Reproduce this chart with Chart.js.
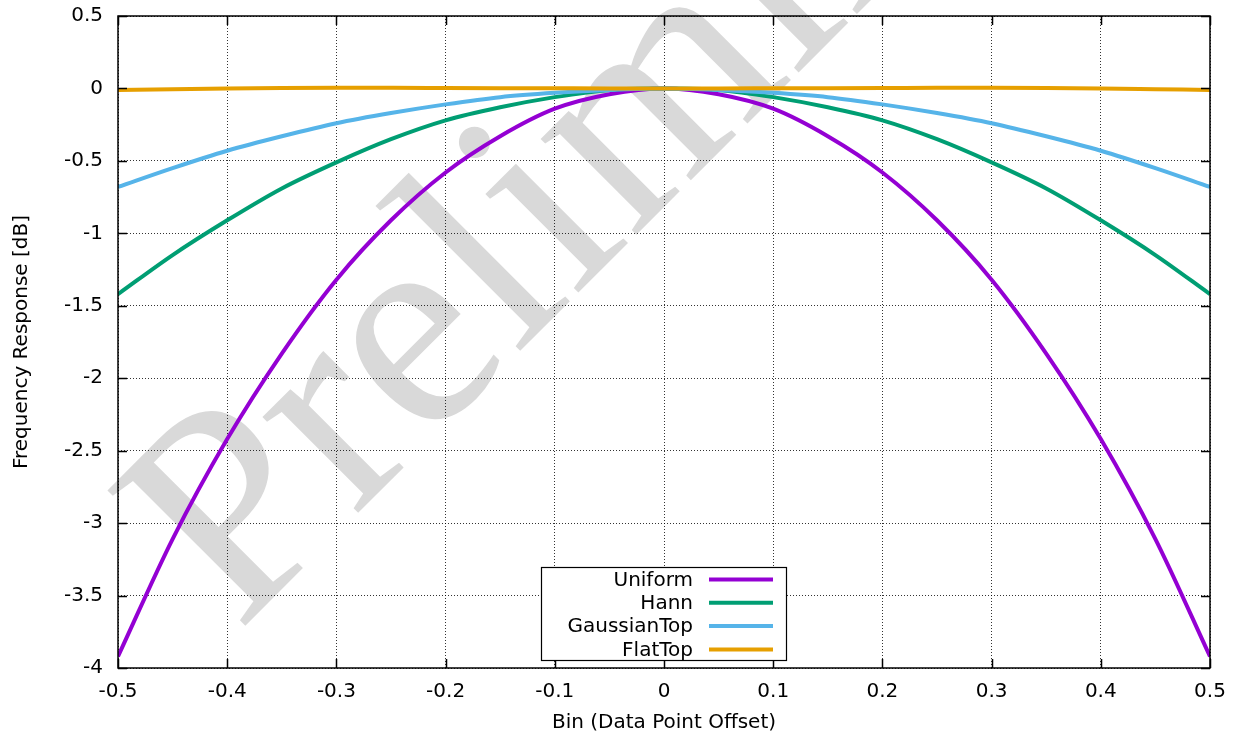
<!DOCTYPE html>
<html><head><meta charset="utf-8">
<script src="https://cdn.jsdelivr.net/npm/chart.js@4/dist/chart.umd.min.js"></script>
<style>html,body{margin:0;padding:0;background:#fff;overflow:hidden}</style>
</head><body>
<canvas id="c" width="1241" height="741"></canvas>
<script>
// ---- data ----
const binOffsets   = [-0.5,-0.45,-0.4,-0.35,-0.3,-0.25,-0.2,-0.15,-0.1,-0.05,0,0.05,0.1,0.15,0.2,0.25,0.3,0.35,0.4,0.45,0.5];
const uniformDb    = [-3.92,-3.11,-2.42,-1.83,-1.32,-0.91,-0.58,-0.33,-0.14,-0.04,0,-0.04,-0.14,-0.33,-0.58,-0.91,-1.32,-1.83,-2.42,-3.11,-3.92];
const hannDb       = [-1.42,-1.15,-0.91,-0.69,-0.51,-0.35,-0.22,-0.13,-0.06,-0.01,0,-0.01,-0.06,-0.13,-0.22,-0.35,-0.51,-0.69,-0.91,-1.15,-1.42];
const gaussTopDb   = [-0.68,-0.55,-0.43,-0.33,-0.24,-0.17,-0.11,-0.06,-0.03,-0.01,0,-0.01,-0.03,-0.06,-0.11,-0.17,-0.24,-0.33,-0.43,-0.55,-0.68];
const flatTopDb    = [-0.01,-0.005,0,0.003,0.004,0.004,0.003,0.002,0.001,0,0,0,0.001,0.002,0.003,0.004,0.004,0.003,0,-0.005,-0.01];
const seriesNames  = ['Uniform','Hann','GaussianTop','FlatTop'];
const seriesColors = ['#9400d3','#009e73','#56b4e9','#e69f00'];
const xTickValues  = [-0.5,-0.4,-0.3,-0.2,-0.1,0,0.1,0.2,0.3,0.4,0.5];
const xTickLabels  = ['-0.5','-0.4','-0.3','-0.2','-0.1','0','0.1','0.2','0.3','0.4','0.5'];
const yTickValues  = [-4,-3.5,-3,-2.5,-2,-1.5,-1,-0.5,0,0.5];
const yTickLabels  = ['-4','-3.5','-3','-2.5','-2','-1.5','-1','-0.5','0','0.5'];
const xTitle = 'Bin (Data Point Offset)';
const yTitle = 'Frequency Response [dB]';
const watermarkText = 'Preliminary';

const FONT = '"DejaVu Sans", "Liberation Sans", sans-serif';
const seriesValues = [uniformDb, hannDb, gaussTopDb, flatTopDb];

const datasets = seriesNames.map((name, i) => ({
  label: name,
  data: binOffsets.map((x, k) => ({x, y: seriesValues[i][k]})),
  borderColor: seriesColors[i],
  backgroundColor: seriesColors[i],
  borderWidth: 4,
  pointRadius: 0,
  fill: false,
  cubicInterpolationMode: 'monotone',
  order: seriesNames.length - 1 - i
}));

const decor = {
  id: 'decor',
  beforeDraw(chart) {
    const ctx = chart.ctx;
    ctx.save();
    ctx.fillStyle = '#fff';
    ctx.fillRect(0, 0, chart.width, chart.height);
    ctx.translate(238, 633);
    ctx.rotate(-Math.PI / 4);
    ctx.font = '295px "Liberation Serif", "DejaVu Serif", serif';
    ctx.fillStyle = '#d9d9d9';
    ctx.textBaseline = 'alphabetic';
    ctx.fillText(watermarkText, 0, 0);
    ctx.restore();
  },
  afterDraw(chart) {
    const {ctx, chartArea: a, scales: {x, y}} = chart;
    ctx.save();
    ctx.strokeStyle = '#000';
    ctx.lineWidth = 1.5;
    ctx.beginPath();
    x.ticks.forEach(t => {
      const px = Math.round(x.getPixelForValue(t.value)) + 0.5;
      ctx.moveTo(px, a.bottom); ctx.lineTo(px, a.bottom - 9);
      ctx.moveTo(px, a.top); ctx.lineTo(px, a.top + 9);
    });
    y.ticks.forEach(t => {
      const py = Math.round(y.getPixelForValue(t.value)) + 0.5;
      ctx.moveTo(a.left, py); ctx.lineTo(a.left + 9, py);
      ctx.moveTo(a.right, py); ctx.lineTo(a.right - 9, py);
    });
    ctx.stroke();
    ctx.strokeRect(a.left, a.top, a.right - a.left, a.bottom - a.top);

    // legend (gnuplot style: right-aligned text, sample line on the right)
    const bx = 541, by = 567, bw = 245, bh = 93;
    ctx.fillStyle = '#fff';
    ctx.fillRect(bx, by, bw, bh);
    ctx.lineWidth = 1.2;
    ctx.strokeRect(bx + 0.5, by + 0.5, bw, bh);
    ctx.font = '20px ' + FONT;
    ctx.textAlign = 'right';
    ctx.textBaseline = 'middle';
    chart.data.datasets.forEach((ds, i) => {
      const cy = 579.5 + i * 23.3;
      ctx.fillStyle = '#000';
      ctx.fillText(ds.label, 693, cy + 1);
      ctx.strokeStyle = ds.borderColor;
      ctx.lineWidth = 4;
      ctx.beginPath();
      ctx.moveTo(709, cy); ctx.lineTo(773, cy);
      ctx.stroke();
    });
    ctx.restore();
  }
};

new Chart(document.getElementById('c'), {
  type: 'line',
  data: { datasets },
  options: {
    responsive: false,
    animation: false,
    devicePixelRatio: 1,
    layout: { padding: { top: 16, right: 31, left: 0, bottom: 0 } },
    plugins: { legend: { display: false }, tooltip: { enabled: false } },
    scales: {
      x: {
        type: 'linear', min: -0.5, max: 0.5,
        afterBuildTicks: s => { s.ticks = xTickValues.map(v => ({value: v})); },
        afterFit: s => { s.height = 73; s.paddingLeft = 0; s.paddingRight = 0; },
        ticks: {
          autoSkip: false, maxRotation: 0, padding: 12,
          font: { family: FONT, size: 20 }, color: '#000',
          callback: v => xTickLabels[xTickValues.findIndex(t => Math.abs(t - v) < 1e-9)]
        },
        grid: { color: 'rgba(0,0,0,0.8)', lineWidth: 1, drawTicks: false, tickLength: 0 },
        border: { display: false, dash: [1, 2] },
        title: { display: true, text: xTitle, font: { family: FONT, size: 20 }, color: '#000', padding: { top: 0, bottom: 6 } }
      },
      y: {
        type: 'linear', min: -4, max: 0.5,
        afterBuildTicks: s => { s.ticks = yTickValues.map(v => ({value: v})); },
        afterFit: s => { s.width = 118; s.paddingTop = 0; s.paddingBottom = 0; },
        ticks: {
          autoSkip: false, padding: 15,
          font: { family: FONT, size: 20 }, color: '#000',
          callback: v => yTickLabels[yTickValues.findIndex(t => Math.abs(t - v) < 1e-9)]
        },
        grid: { color: 'rgba(0,0,0,0.8)', lineWidth: 1, drawTicks: false, tickLength: 0 },
        border: { display: false, dash: [1, 2] },
        title: { display: true, text: yTitle, font: { family: FONT, size: 20 }, color: '#000', padding: { top: 10, bottom: 0 } }
      }
    }
  },
  plugins: [decor]
});
</script>
</body></html>
